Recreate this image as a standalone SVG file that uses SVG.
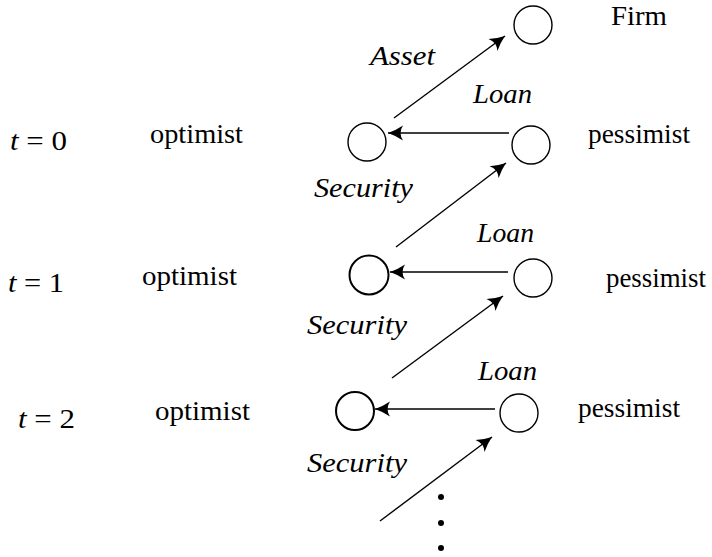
<svg xmlns="http://www.w3.org/2000/svg" width="712" height="557" viewBox="0 0 712 557">
<style>
  .node { fill: none; stroke: #000; stroke-width: 1.4; }
  .thick { stroke-width: 2; }
  .edge { fill: none; stroke: #000; stroke-width: 1.4; }
  text { font-family: "Liberation Serif", "Times New Roman", serif; font-size: 27px; fill: #000; }
  .it { font-style: italic; }
</style>
<defs>
  <marker id="ah" markerUnits="userSpaceOnUse" markerWidth="20" markerHeight="20" viewBox="-14 -8 16 16" refX="0" refY="0" orient="auto">
    <path d="M0,0 Q-6,-2 -12,-6 Q-8,0 -12,6 Q-6,2 0,0 Z" fill="#000"/>
  </marker>
</defs>
<rect width="712" height="557" fill="#fff"/>

<g id="connectors">
  <line class="edge" x1="394" y1="118" x2="505" y2="36" marker-end="url(#ah)"/>
  <line class="edge" x1="509" y1="133" x2="388" y2="133" marker-end="url(#ah)"/>
  <line class="edge" x1="396" y1="247" x2="506" y2="163" marker-end="url(#ah)"/>
  <line class="edge" x1="508" y1="272" x2="390" y2="272" marker-end="url(#ah)"/>
  <line class="edge" x1="392" y1="378" x2="503" y2="296" marker-end="url(#ah)"/>
  <line class="edge" x1="495" y1="409" x2="375" y2="409" marker-end="url(#ah)"/>
  <line class="edge" x1="380" y1="521" x2="492" y2="437" marker-end="url(#ah)"/>
</g>

<g id="firm"><circle class="node" cx="533" cy="25" r="19"/></g>
<g id="optimist0"><circle class="node" cx="367" cy="142" r="19"/></g>
<g id="pessimist0"><circle class="node" cx="531" cy="145" r="19"/></g>
<g id="optimist1"><circle class="node thick" cx="369" cy="275" r="19.5"/></g>
<g id="pessimist1"><circle class="node" cx="533" cy="278" r="19"/></g>
<g id="optimist2"><circle class="node thick" cx="355" cy="411" r="19"/></g>
<g id="pessimist2"><circle class="node" cx="519" cy="413" r="19"/></g>

<g id="dots" fill="#000">
  <circle cx="441" cy="497" r="3"/>
  <circle cx="441" cy="523" r="3"/>
  <circle cx="441" cy="548" r="3"/>
</g>

<g id="labels">
  <text x="611" y="25" textLength="56" lengthAdjust="spacingAndGlyphs">Firm</text>
  <text class="it" x="370" y="65" textLength="65" lengthAdjust="spacingAndGlyphs">Asset</text>
  <text class="it" x="473" y="103" textLength="59" lengthAdjust="spacingAndGlyphs">Loan</text>
  <text class="it" x="314" y="197" textLength="99" lengthAdjust="spacingAndGlyphs">Security</text>
  <text class="it" x="477" y="242" textLength="57" lengthAdjust="spacingAndGlyphs">Loan</text>
  <text class="it" x="307" y="334" textLength="100" lengthAdjust="spacingAndGlyphs">Security</text>
  <text class="it" x="478" y="380" textLength="59" lengthAdjust="spacingAndGlyphs">Loan</text>
  <text class="it" x="307" y="472" textLength="100" lengthAdjust="spacingAndGlyphs">Security</text>

  <text x="10" y="150" textLength="57" lengthAdjust="spacingAndGlyphs"><tspan class="it">t</tspan> = 0</text>
  <text x="8" y="292" textLength="56" lengthAdjust="spacingAndGlyphs"><tspan class="it">t</tspan> = 1</text>
  <text x="18" y="428" textLength="57" lengthAdjust="spacingAndGlyphs"><tspan class="it">t</tspan> = 2</text>

  <text x="150" y="143" textLength="93" lengthAdjust="spacingAndGlyphs">optimist</text>
  <text x="142" y="285" textLength="95" lengthAdjust="spacingAndGlyphs">optimist</text>
  <text x="155" y="420" textLength="95" lengthAdjust="spacingAndGlyphs">optimist</text>

  <text x="588" y="143" textLength="102" lengthAdjust="spacingAndGlyphs">pessimist</text>
  <text x="606" y="287" textLength="100" lengthAdjust="spacingAndGlyphs">pessimist</text>
  <text x="578" y="417" textLength="102" lengthAdjust="spacingAndGlyphs">pessimist</text>
</g>
</svg>
